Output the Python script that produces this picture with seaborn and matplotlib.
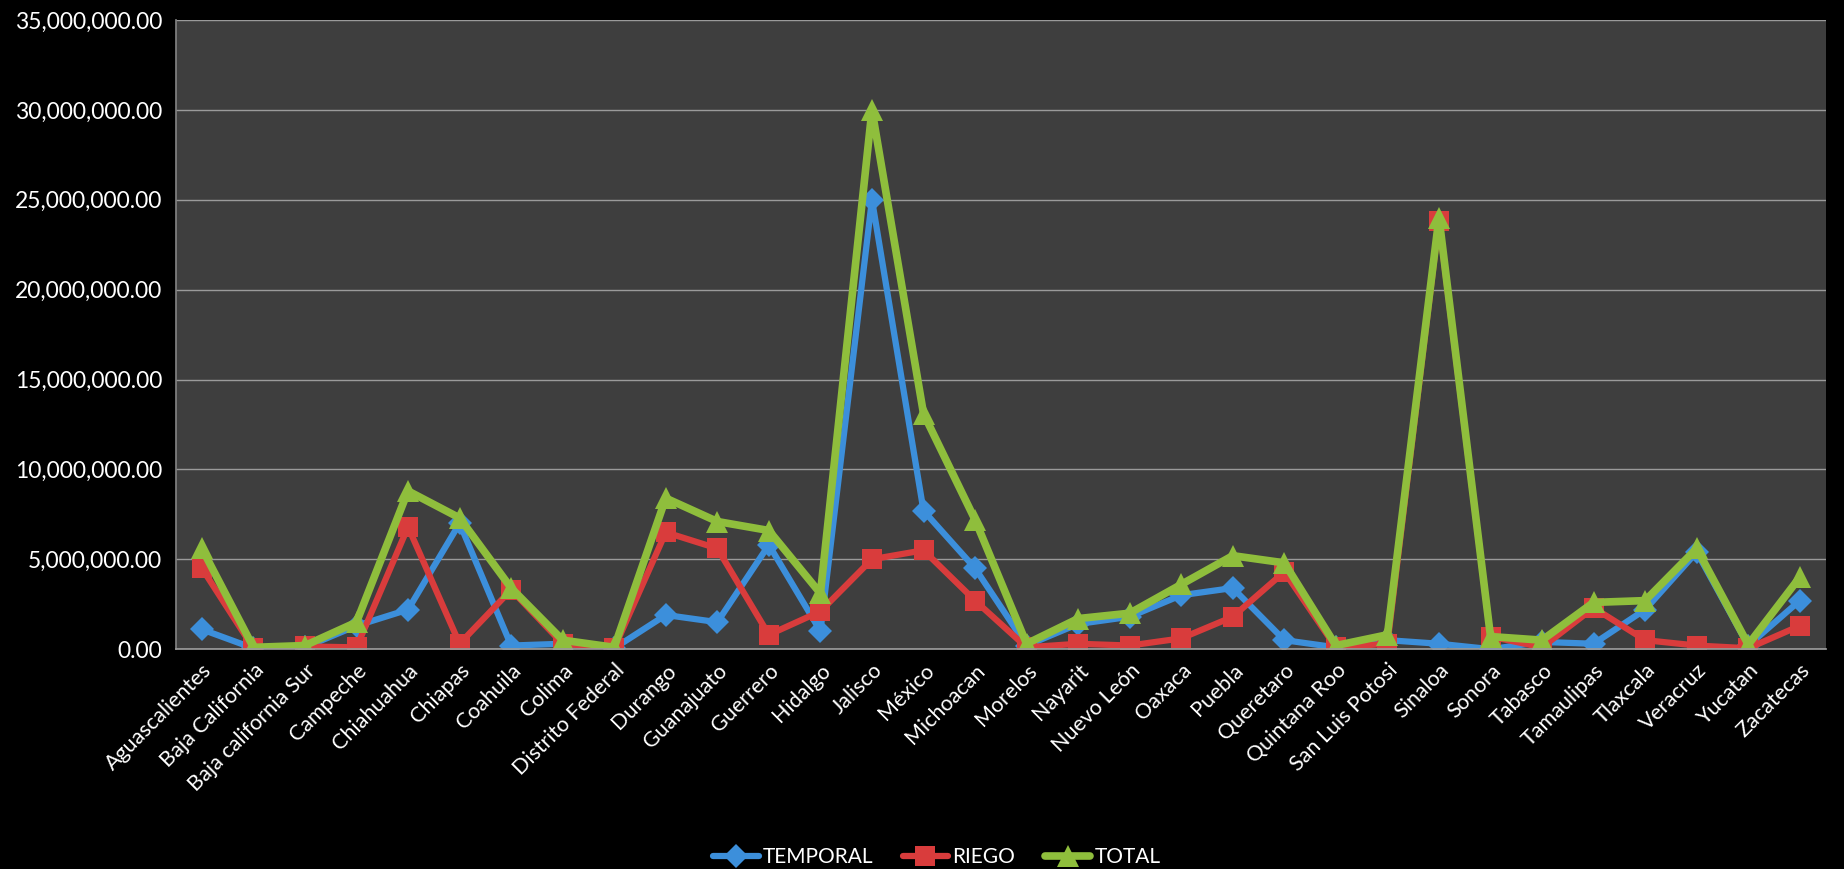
import matplotlib
matplotlib.use("Agg")
import matplotlib.pyplot as plt
import matplotlib.ticker as mticker
import seaborn as sns
import pandas as pd

estados = ["Aguascalientes", "Baja California", "Baja california Sur", "Campeche",
           "Chiahuahua", "Chiapas", "Coahuila", "Colima", "Distrito Federal",
           "Durango", "Guanajuato", "Guerrero", "Hidalgo", "Jalisco", "México",
           "Michoacan", "Morelos", "Nayarit", "Nuevo León", "Oaxaca", "Puebla",
           "Queretaro", "Quintana Roo", "San Luis Potosi", "Sinaloa", "Sonora",
           "Tabasco", "Tamaulipas", "Tlaxcala", "Veracruz", "Yucatan", "Zacatecas"]

temporal = [1.1e6, 0.05e6, 0.1e6, 1.3e6, 2.2e6, 7.0e6, 0.2e6, 0.3e6, 0.05e6,
            1.9e6, 1.5e6, 5.8e6, 1.0e6, 25.0e6, 7.7e6, 4.5e6, 0.2e6, 1.4e6,
            1.8e6, 3.0e6, 3.4e6, 0.5e6, 0.1e6, 0.5e6, 0.3e6, 0.0e6, 0.4e6,
            0.3e6, 2.2e6, 5.4e6, 0.2e6, 2.7e6]
riego = [4.5e6, 0.05e6, 0.15e6, 0.1e6, 6.8e6, 0.3e6, 3.3e6, 0.3e6, 0.05e6,
         6.5e6, 5.6e6, 0.8e6, 2.1e6, 5.0e6, 5.5e6, 2.7e6, 0.1e6, 0.3e6,
         0.2e6, 0.6e6, 1.8e6, 4.3e6, 0.1e6, 0.3e6, 23.8e6, 0.7e6, 0.1e6,
         2.3e6, 0.5e6, 0.2e6, 0.05e6, 1.3e6]
total = [5.6e6, 0.1e6, 0.2e6, 1.5e6, 8.8e6, 7.3e6, 3.4e6, 0.5e6, 0.1e6,
         8.4e6, 7.1e6, 6.6e6, 3.1e6, 30.0e6, 13.1e6, 7.2e6, 0.3e6, 1.7e6,
         2.0e6, 3.6e6, 5.2e6, 4.8e6, 0.2e6, 0.8e6, 24.0e6, 0.7e6, 0.5e6,
         2.6e6, 2.7e6, 5.6e6, 0.25e6, 4.0e6]

series_names = ["TEMPORAL", "RIEGO", "TOTAL"]
colors = {"TEMPORAL": "#3C8FDB", "RIEGO": "#D93C3C", "TOTAL": "#8FBE3C"}
markers = {"TEMPORAL": "D", "RIEGO": "s", "TOTAL": "^"}

df = pd.DataFrame({
    "estado": estados * 3,
    "valor": temporal + riego + total,
    "serie": ["TEMPORAL"] * len(estados) + ["RIEGO"] * len(estados) + ["TOTAL"] * len(estados),
})
df["x"] = df["estado"].map({e: i for i, e in enumerate(estados)})

sns.set_theme(style="dark")
plt.rcParams["font.family"] = ["Lato", "DejaVu Sans"]

fig = plt.figure(figsize=(18.44, 8.69), dpi=100, facecolor="black")
ax = fig.add_axes([0.0955, 0.253, 0.8945, 0.724])
ax.set_facecolor("#3E3E3E")

lw = {"TEMPORAL": 4.5, "RIEGO": 4.5, "TOTAL": 5.5}
ms = {"TEMPORAL": 12, "RIEGO": 14, "TOTAL": 16}
for s in series_names:
    sub = df[df["serie"] == s]
    sns.lineplot(data=sub, x="x", y="valor", ax=ax, color=colors[s],
                 marker=markers[s], markersize=ms[s], linewidth=lw[s],
                 markeredgewidth=0, label=s, legend=False)

ax.set_xlim(-0.5, len(estados) - 0.5)
ax.set_ylim(0, 35e6)
ax.yaxis.set_major_locator(mticker.MultipleLocator(5e6))
ax.yaxis.set_major_formatter(mticker.FuncFormatter(lambda v, p: f"{v:,.2f}"))
ax.set_xticks(range(len(estados)))
ax.set_xticklabels(estados, rotation=45, ha="right", rotation_mode="anchor")
ax.tick_params(axis="x", colors="white", labelsize=15.5, length=0, pad=8)
ax.tick_params(axis="y", colors="white", labelsize=16.5, length=0, pad=10)
ax.grid(axis="y", color="#9A9A9A", linewidth=1)
ax.grid(axis="x", visible=False)
for sp in ax.spines.values():
    sp.set_visible(False)
ax.spines["left"].set_visible(True)
ax.spines["left"].set_color("#808080")
ax.spines["bottom"].set_visible(True)
ax.spines["bottom"].set_color("#9A9A9A")
ax.set_xlabel("")
ax.set_ylabel("")

handles, labels = ax.get_legend_handles_labels()
leg = fig.legend(handles, labels, loc="center", bbox_to_anchor=(0.508, 0.014),
                 ncol=3, frameon=False, fontsize=15, handlelength=2.2,
                 columnspacing=1.4, handletextpad=0.2, labelcolor="white")

fig.savefig("out.png", dpi=100, facecolor="black")
